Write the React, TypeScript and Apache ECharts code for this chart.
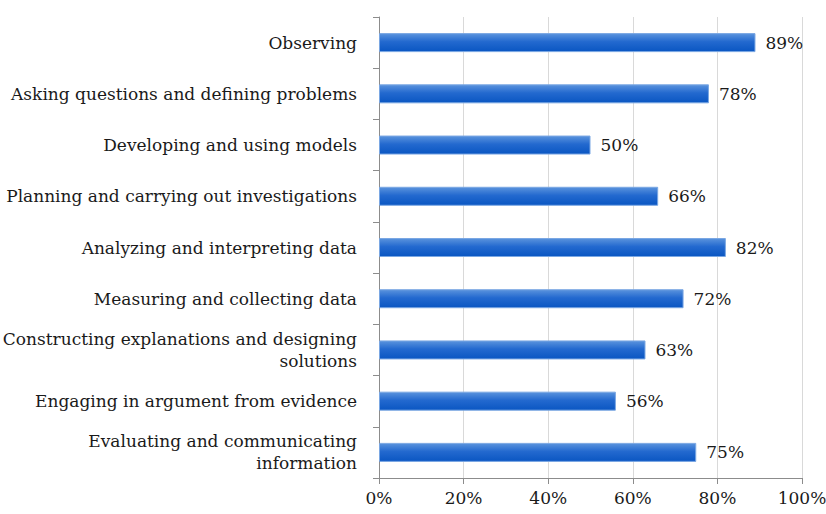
import React, { useEffect, useRef } from "react";
import * as echarts from "echarts";

const categories: string[] = [
  "Observing",
  "Asking questions and defining problems",
  "Developing and using models",
  "Planning and carrying out investigations",
  "Analyzing and interpreting data",
  "Measuring and collecting data",
  "Constructing explanations and designing\nsolutions",
  "Engaging in argument from evidence",
  "Evaluating and communicating\ninformation",
];

const values: number[] = [89, 78, 50, 66, 82, 72, 63, 56, 75];

const xTicks: number[] = [0, 20, 40, 60, 80, 100];

const FONT = "'DejaVu Serif', 'Liberation Serif', serif";

export default function App() {
  const ref = useRef<HTMLDivElement>(null);
  useEffect(() => {
    if (!ref.current) return;
    const chart = echarts.init(ref.current, null, { renderer: "svg" });
    chart.setOption({
      animation: false,
      backgroundColor: "#ffffff",
      grid: {
        left: 379,
        top: 17,
        width: 423,
        height: 461,
        containLabel: false,
        outerBoundsMode: "none",
      },
      xAxis: {
        type: "value",
        min: xTicks[0],
        max: xTicks[xTicks.length - 1],
        interval: 20,
        axisLine: { show: true, lineStyle: { color: "#8c8c8c", width: 1 } },
        axisTick: { show: true, length: 6, lineStyle: { color: "#8c8c8c" } },
        splitLine: { show: true, lineStyle: { color: "#d9d9d9", width: 1 } },
        axisLabel: {
          formatter: (v: number) => `${v}%`,
          color: "#1a1a1a",
          fontFamily: FONT,
          fontSize: 17,
          margin: 11,
        },
      },
      yAxis: {
        type: "category",
        data: categories,
        inverse: true,
        axisLine: { show: true, lineStyle: { color: "#8c8c8c", width: 1 } },
        axisTick: { show: true, length: 6, alignWithLabel: false, lineStyle: { color: "#8c8c8c" } },
        axisLabel: {
          color: "#1a1a1a",
          fontFamily: FONT,
          fontSize: 17,
          margin: 22,
          lineHeight: 22,
          align: "right",
        },
      },
      series: [
        {
          type: "bar",
          data: values,
          barWidth: 19,
          itemStyle: {
            color: new echarts.graphic.LinearGradient(0, 0, 0, 1, [
              { offset: 0, color: "#5a93dd" },
              { offset: 0.45, color: "#2369cf" },
              { offset: 1, color: "#0a56c2" },
            ]),
            borderColor: "#7aa7e3",
            borderWidth: 1,
          },
          label: {
            show: true,
            position: "right",
            distance: 10,
            formatter: (p: any) => `${p.value}%`,
            color: "#1a1a1a",
            fontFamily: FONT,
            fontSize: 17,
          },
        },
      ],
    });
    return () => chart.dispose();
  }, []);
  return <div ref={ref} style={{ width: 826, height: 514, position: "absolute", left: 0, top: 0 }} />;
}
